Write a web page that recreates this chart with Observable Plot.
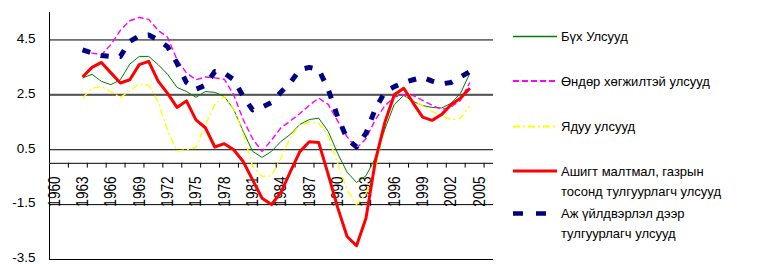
<!DOCTYPE html>
<html><head><meta charset="utf-8">
<script src="https://cdn.jsdelivr.net/npm/d3@7"></script>
<script src="https://cdn.jsdelivr.net/npm/@observablehq/plot@0.6"></script>
<style>
body{margin:0;background:#fff;font-family:"Liberation Sans",Arial,sans-serif;}
#wrap{position:relative;width:758px;height:264px;overflow:hidden;}
#legend{position:absolute;left:0;top:0;pointer-events:none;}
</style></head><body><div id="wrap"></div>
<script>
const years = [1963,1964,1965,1966,1967,1968,1969,1970,1971,1972,1973,1974,1975,1976,1977,1978,1979,1980,1981,1982,1983,1984,1985,1986,1987,1988,1989,1990,1991,1992,1993,1994,1995,1996,1997,1998,1999,2000,2001,2002,2003,2004];

const seriesNames = ["Бүх Улсууд","Өндөр хөгжилтэй улсууд","Ядуу улсууд","Ашигт малтмал, газрын тосонд тулгуурлагч улсууд","Аж үйлдвэрлэл дээр тулгуурлагч улсууд"];

const allCountries = [3.11,3.25,2.99,2.87,3.05,3.62,3.90,3.90,3.60,3.25,2.77,2.62,2.41,2.62,2.59,2.44,1.97,1.17,0.44,0.22,0.44,0.80,1.06,1.42,1.60,1.65,1.17,0.37,-0.32,-0.69,-0.45,0.20,1.25,2.15,2.48,2.26,2.11,2.04,2.02,2.19,2.55,3.29];
const highDeveloped = [4.08,4.02,3.96,4.33,4.85,5.20,5.32,5.25,4.85,4.60,3.78,3.30,3.05,3.15,3.12,3.07,2.50,1.60,0.90,0.44,0.85,1.30,1.55,1.82,2.12,2.38,2.15,1.55,0.97,0.55,0.90,1.60,2.10,2.42,2.50,2.47,2.30,2.12,1.97,2.05,2.30,2.95];
const poor = [2.38,2.74,2.80,2.62,2.40,2.65,2.90,2.85,2.25,1.20,0.45,0.50,0.58,1.40,2.15,2.44,2.00,1.10,-0.10,-0.47,-0.45,0.20,0.95,1.40,1.50,1.47,1.00,0.00,-0.95,-1.50,-1.10,-0.20,1.45,2.40,2.75,2.30,2.10,1.90,1.75,1.59,1.65,2.10];
const resourceBased = [3.15,3.50,3.68,3.30,2.93,3.05,3.60,3.72,3.00,2.55,2.04,2.28,1.59,1.30,0.60,0.72,0.50,0.07,-0.60,-1.27,-1.50,-1.05,-0.30,0.43,0.79,0.76,-0.40,-1.60,-2.66,-3.00,-2.00,0.10,1.50,2.50,2.74,2.20,1.69,1.57,1.78,2.14,2.38,2.74];
const industryBased = [4.14,4.03,3.93,3.90,3.90,4.45,4.65,4.68,4.50,4.25,3.65,2.95,2.70,2.85,3.35,3.30,3.05,2.45,1.95,2.05,2.22,2.60,2.95,3.42,3.50,3.42,2.70,1.70,0.90,0.60,1.10,2.00,2.60,2.80,2.95,3.05,3.14,3.00,2.90,2.95,3.15,3.35];

const labelYears = [1960,1963,1966,1969,1972,1975,1978,1981,1984,1987,1990,1993,1996,1999,2002,2005];
const tickYears = [1961.5,1963.5,1965.5,1967.5,1969.5,1971.5,1973.5,1975.5,1977.5,1979.5,1981.5,1983.5,1985.5,1987.5,1989.5,1991.5,1993.5,1995.5,1997.5,1999.5,2001.5,2003.5,2005.5];
const yTicks = [-3.5,-1.5,0.5,2.5,4.5];

const styles = [
  {stroke:"#008000", strokeWidth:1, dash:null},
  {stroke:"#ff00ff", strokeWidth:1.4, dash:"6,3"},
  {stroke:"#ffff00", strokeWidth:1.4, dash:"7,3,2,3"},
  {stroke:"#ff0000", strokeWidth:3, dash:null},
  {stroke:"#000080", strokeWidth:5, dash:"8,11"}
];
const valueSets = [allCountries, highDeveloped, poor, resourceBased, industryBased];
const tables = valueSets.map((vals,i)=>years.map((y,j)=>({year:y, value:vals[j], series:seriesNames[i]})));

const font = '"Liberation Sans", Arial, sans-serif';

const lineMarks = tables.map((t,i)=>Plot.line(t,{x:"year", y:"value", stroke:styles[i].stroke, strokeWidth:styles[i].strokeWidth, strokeDasharray:styles[i].dash, strokeLinecap:"butt", strokeLinejoin:"round"}));

const chart = Plot.plot({
  width:758, height:264,
  marginLeft:49, marginRight:265, marginTop:12, marginBottom:5,
  x:{domain:[1959.5,2006.5], axis:null},
  y:{domain:[-3.5,5.5], axis:null},
  style:{fontFamily:font, fontSize:"13px", background:"transparent", color:"#000"},
  marks:[
    Plot.ruleY(yTicks,{stroke:"#000", strokeWidth:1}),
    Plot.ruleY([2.5],{stroke:"#555", strokeWidth:2}),
    Plot.ruleX([1959.5],{stroke:"#000", strokeWidth:1}),
    Plot.axisY({ticks:yTicks, tickSize:0, tickPadding:14, tickFormat:d=>d.toFixed(1), label:null, fontSize:13.5, dy:-1.5}),
    Plot.ruleY([0],{stroke:"#333", strokeWidth:1.3}),
    Plot.ruleX(tickYears,{y1:0, y2:-0.17, stroke:"#000"}),
    Plot.text(labelYears,{x:d=>d, y:0, text:d=>String(d), rotate:-90, textAnchor:"end", dy:13, fontSize:17, fill:"#000", className:"xlab"}),
    ...lineMarks
  ]
});
// condense rotated year labels along their reading direction (as in the original)
d3.select(chart).selectAll(".xlab text").attr("transform", function(){ return this.getAttribute("transform") + " scale(0.8,1)"; });
const wrap = document.getElementById("wrap");
wrap.appendChild(chart);

// legend
const lg = d3.select(wrap).append("svg").attr("id","legend").attr("width",758).attr("height",264)
  .style("font-family",font).style("font-size","13px");
const legendRows = [
  {y:36.5, lines:[seriesNames[0]]},
  {y:81, lines:["Өндөр хөгжилтэй улсууд"]},
  {y:126.5, lines:["Ядуу улсууд"]},
  {y:171, lines:["Ашигт малтмал, газрын","тосонд тулгуурлагч улсууд"]},
  {y:213.5, lines:["Аж үйлдвэрлэл дээр","тулгуурлагч улсууд"]}
];
legendRows.forEach((r,i)=>{
  const st = styles[i];
  lg.append("line").attr("x1",513).attr("x2",557).attr("y1",r.y).attr("y2",r.y)
    .attr("stroke",st.stroke).attr("stroke-width",i===0?1.6:(i===4?4.5:st.strokeWidth+(i===1||i===2?0.6:0)))
    .attr("stroke-dasharray",i===4?"10,13":st.dash).attr("stroke-linecap","butt");
  r.lines.forEach((t,k)=>{
    lg.append("text").attr("x",561).attr("y",r.y + 4.5 + k*20).attr("fill","#000").text(t);
  });
});
</script></body></html>
